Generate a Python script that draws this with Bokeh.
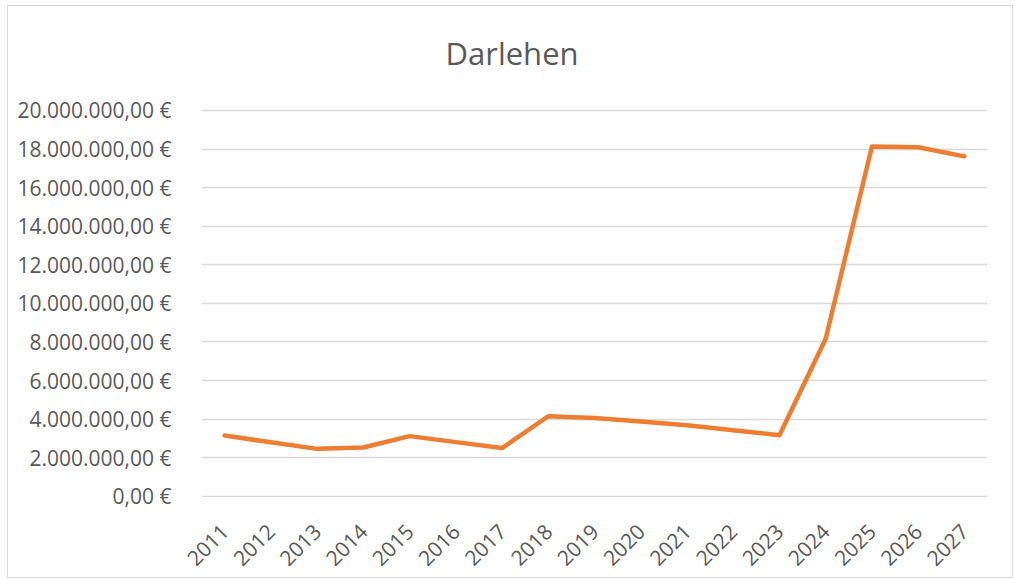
import math
from bokeh.plotting import figure
from bokeh.models import FixedTicker, CustomJSTickFormatter, ColumnDataSource, Range1d
from bokeh.core.properties import value
from bokeh.embed import file_html
from bokeh.resources import INLINE

years = ["2011", "2012", "2013", "2014", "2015", "2016", "2017", "2018", "2019",
         "2020", "2021", "2022", "2023", "2024", "2025", "2026", "2027"]
darlehen = [3150000, 2800000, 2460000, 2530000, 3120000, 2810000, 2500000, 4150000, 4060000,
            3880000, 3680000, 3430000, 3170000, 8170000, 18130000, 18090000, 17620000]
y_ticks = [0, 2000000, 4000000, 6000000, 8000000, 10000000, 12000000, 14000000,
           16000000, 18000000, 20000000]
title_text = "Darlehen"

FONT = "Open Sans"
GREY = "#595959"

p = figure(x_range=years, y_range=Range1d(-60000, 25230000), width=1006, height=573,
           output_backend="svg", toolbar_location=None,
           min_border_left=193, min_border_right=27, min_border_top=3, min_border_bottom=82,
           styles={"border": "1.5px solid #d9d9d9", "margin-left": "7px", "margin-top": "5px",
                   "box-sizing": "border-box"})

# chart title drawn inside the (extended) plot area, above the 20M gridline
tsrc = ColumnDataSource(dict(x=[years[6]], y=[23000000], t=[title_text]))
p.text(x="x", y="y", text="t", source=tsrc, x_offset=10,
       text_font=value(FONT), text_font_size="31px", text_color=GREY,
       text_align="center", text_baseline="alphabetic")

src = ColumnDataSource(dict(x=years, y=darlehen))
p.line("x", "y", source=src, line_color="#ED7D31", line_width=4.5, line_cap="round", line_join="round")

p.yaxis.ticker = FixedTicker(ticks=y_ticks)
p.yaxis.formatter = CustomJSTickFormatter(code="""
    const s = Math.round(tick).toString().replace(/\\B(?=(\\d{3})+(?!\\d))/g, '.');
    return s + ',00 \u20ac';
""")
for ax in (p.xaxis, p.yaxis):
    ax.axis_line_color = None
    ax.major_tick_line_color = None
    ax.minor_tick_line_color = None
    ax.major_label_text_font = FONT
    ax.major_label_text_color = GREY
    ax.major_label_text_font_size = "21px"
p.yaxis.major_label_standoff = 24
p.xaxis.major_label_orientation = math.pi / 4
p.xaxis.major_label_standoff = 24

p.xgrid.grid_line_color = None
p.ygrid.grid_line_color = "#d9d9d9"
p.ygrid.grid_line_width = 1.5
p.ygrid.ticker = FixedTicker(ticks=y_ticks)
p.outline_line_color = None
p.background_fill_color = "white"
p.border_fill_color = "white"

open("out.html", "w").write(file_html(p, INLINE))
